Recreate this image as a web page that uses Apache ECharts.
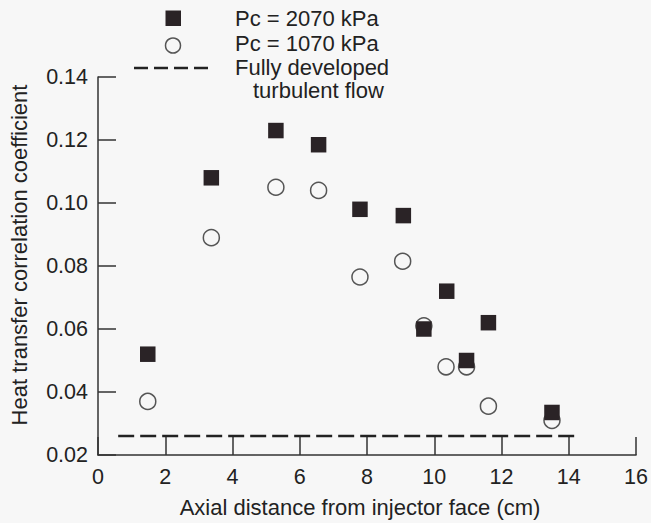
<!DOCTYPE html>
<html>
<head>
<meta charset="utf-8">
<script src="https://cdn.jsdelivr.net/npm/echarts@6/dist/echarts.min.js"></script>
<style>
  html, body { margin: 0; padding: 0; background: #f7f7f7; }
  #chart { width: 651px; height: 523px; }
</style>
</head>
<body>
<div id="chart"></div>
<script>
// values
const xTicks = [0, 2, 4, 6, 8, 10, 12, 14, 16];
const yTicks = [0.02, 0.04, 0.06, 0.08, 0.10, 0.12, 0.14];

// Pc = 2070 kPa (filled squares)
const highX = [1.48, 3.37, 5.29, 6.56, 7.79, 9.08, 9.69, 10.37, 10.96, 11.61, 13.5];
const highY = [0.052, 0.108, 0.123, 0.1185, 0.098, 0.096, 0.060, 0.072, 0.050, 0.062, 0.0335];

// Pc = 1070 kPa (open circles)
const lowX = [1.48, 3.37, 5.29, 6.56, 7.79, 9.06, 9.69, 10.35, 10.96, 11.61, 13.5];
const lowY = [0.037, 0.089, 0.105, 0.104, 0.0765, 0.0815, 0.061, 0.048, 0.048, 0.0355, 0.031];

// fully developed turbulent flow
const fullyX = [0.6, 14.2];
const fullyY = [0.026, 0.026];

const pairs = (xs, ys) => xs.map((x, i) => [x, ys[i]]);

const ink = '#222';
const font = 'Liberation Sans, Arial, Helvetica, sans-serif';
const fs = 22;

let myChart = echarts.init(document.getElementById('chart'), null, {renderer: 'svg'});
myChart.setOption({
  backgroundColor: '#f7f7f7',
  animation: false,
  textStyle: {fontFamily: font, color: ink},
  grid: {left: 96, right: 13, top: 77, bottom: 67, containLabel: false},
  xAxis: {
    type: 'value',
    min: xTicks[0],
    max: xTicks[xTicks.length - 1],
    interval: 2,
    name: 'Axial distance from injector face (cm)',
    nameLocation: 'middle',
    nameGap: 41,
    nameTextStyle: {fontSize: fs, color: ink, padding: [0, 14, 0, 0]},
    axisLine: {lineStyle: {color: '#333', width: 1.5}},
    axisTick: {inside: true, length: 18, lineStyle: {color: '#333', width: 1.5}},
    axisLabel: {fontSize: 21.5, color: ink, margin: 11},
    splitLine: {show: false}
  },
  yAxis: {
    type: 'value',
    min: yTicks[0],
    max: yTicks[yTicks.length - 1],
    interval: 0.02,
    name: 'Heat transfer correlation coefficient',
    nameLocation: 'middle',
    nameGap: 68,
    nameTextStyle: {fontSize: fs, color: ink, padding: [0, 0, 0, 22]},
    axisLine: {show: true, lineStyle: {color: '#333', width: 1.5}},
    axisTick: {show: true, inside: true, length: 18, lineStyle: {color: '#333', width: 1.5}},
    axisLabel: {fontSize: 21.5, color: ink, margin: 10, formatter: v => v.toFixed(2)},
    splitLine: {show: false}
  },
  series: [
    {
      name: 'Fully developed turbulent flow',
      type: 'line',
      data: pairs(fullyX, fullyY),
      symbol: 'none',
      lineStyle: {color: ink, width: 2.5, type: [16, 6]},
      z: 1
    },
    {
      name: 'Pc = 1070 kPa',
      type: 'scatter',
      data: pairs(lowX, lowY),
      symbol: 'circle',
      symbolSize: 16,
      itemStyle: {color: 'rgba(0,0,0,0)', borderColor: '#555', borderWidth: 1.5, opacity: 1},
      z: 2
    },
    {
      name: 'Pc = 2070 kPa',
      type: 'scatter',
      data: pairs(highX, highY),
      symbol: 'rect',
      symbolSize: 15.5,
      itemStyle: {color: '#2a2326', opacity: 1},
      z: 3
    }
  ],
  // legend drawn by hand to keep the reference layout
  graphic: [
    {type: 'rect', shape: {x: 165.5, y: 10.5, width: 15.5, height: 15.5}, style: {fill: '#2a2326'}},
    {type: 'circle', shape: {cx: 173, cy: 45.5, r: 7.5}, style: {fill: 'none', stroke: '#555', lineWidth: 1.5}},
    {type: 'line', shape: {x1: 134, y1: 68, x2: 208, y2: 68}, style: {stroke: ink, lineWidth: 2.5, lineDash: [14, 6]}},
    {type: 'text', x: 235, y: 18, style: {text: 'Pc = 2070 kPa', font: fs + 'px ' + font, fill: ink, verticalAlign: 'middle'}},
    {type: 'text', x: 235, y: 43, style: {text: 'Pc = 1070 kPa', font: fs + 'px ' + font, fill: ink, verticalAlign: 'middle'}},
    {type: 'text', x: 235, y: 67, style: {text: 'Fully developed', font: fs + 'px ' + font, fill: ink, verticalAlign: 'middle'}},
    {type: 'text', x: 253, y: 90, style: {text: 'turbulent flow', font: fs + 'px ' + font, fill: ink, verticalAlign: 'middle'}}
  ]
});
</script>
</body>
</html>
